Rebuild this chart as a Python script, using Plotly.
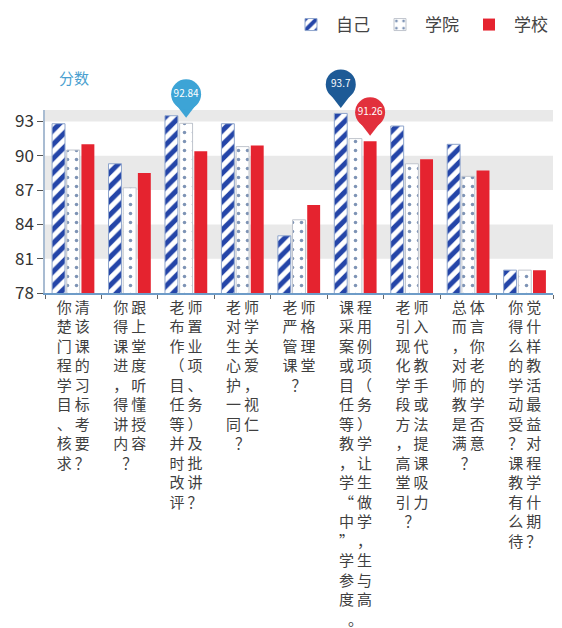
import plotly.graph_objects as go

# ---------------- data ----------------
questions = [
    "你清楚该门课程的学习目标、考核要求？",
    "你跟得上课堂进度，听得懂讲授内容？",
    "老师布置作业（项目、任务等）并及时批改讲评？",
    "老师对学生关心爱护，一视同仁？",
    "老师严格管理课堂？",
    "课程采用案例或项目（任务等）教学，让学生“做中学”，学生参与度高。",
    "老师引入现代化教学手段或方法，提高课堂吸引力？",
    "总体而言，你对老师的教学是否满意？",
    "你觉得什么样的教学活动最受益？对课程教学有什么期待？",
]
series_names = ["自己", "学院", "学校"]
self_scores = [92.8, 89.3, 93.5, 92.8, 83.0, 93.7, 92.6, 91.0, 80.0]
college_scores = [90.5, 87.2, 92.84, 90.8, 84.4, 91.5, 89.3, 88.2, 80.0]
school_scores = [91.0, 88.5, 90.4, 90.9, 85.7, 91.26, 89.7, 88.7, 80.0]
y_ticks = [78, 81, 84, 87, 90, 93]
y_min, y_max = 78, 94

# ---------------- layout constants ----------------
W, H = 562, 628
M_L, M_R, M_B = 45, 9, 335
MAIN_TOP = 110          # pixel where the value axis ends
M_T = 30                # paper top (room for the pins)
BARGAP, BARGROUPGAP = 0.22, 0.12
FONT = "Noto Sans CJK SC"


def wrap2(s):
    return "<br>".join("\u2009".join(s[i:i + 2]) for i in range(0, len(s), 2))


labels = [wrap2(q) for q in questions]
all_series = [self_scores, college_scores, school_scores]

bar_styles = [
    dict(color="white",
         pattern=dict(shape="/", fgcolor="#2445a8", bgcolor="white", size=10,
                      solidity=0.5, fgopacity=1),
         line=dict(color="#8ea4cc", width=1)),
    dict(color="white",
         pattern=dict(shape=".", fgcolor="#7d93b5", bgcolor="white", size=9,
                      solidity=0.12, fgopacity=1),
         line=dict(color="#c0c5cd", width=1)),
    dict(color="#e5232f", line=dict(color="#e5232f", width=0)),
]
pin_colors = ["#1d5a96", "#3da4d6", "#e2303c"]

plot_h_total = H - M_T - M_B
plot_h_main = H - MAIN_TOP - M_B
plot_w = W - M_L - M_R
dom_top = plot_h_main / plot_h_total
px_per_unit = plot_h_main / (y_max - y_min)
y2_max = y_min + (y_max - y_min) / dom_top

fig = go.Figure()
for name, vals, st in zip(series_names, all_series, bar_styles):
    fig.add_trace(go.Bar(x=labels, y=vals, name=name, marker=st,
                         hoverinfo="skip"))

# pins (markPoint "max") on overlay axes that extend above the value axis
slot = (1 - BARGAP) / len(all_series)
for k, (vals, col) in enumerate(zip(all_series, pin_colors)):
    i = max(range(len(vals)), key=lambda j: vals[j])
    v = vals[i]
    xpos = i - (1 - BARGAP) / 2 + slot * (k + 0.5)
    fig.add_trace(go.Scatter(
        x=[xpos], y=[v + 14 / px_per_unit], xaxis="x2", yaxis="y2", mode="markers",
        marker=dict(symbol="triangle-down", size=17, color=col, line=dict(width=0)),
        showlegend=False, hoverinfo="skip", cliponaxis=False))
    fig.add_trace(go.Scatter(
        x=[xpos], y=[v + 29 / px_per_unit], xaxis="x2", yaxis="y2", mode="markers+text",
        marker=dict(symbol="circle", size=30, color=col, line=dict(width=0)),
        text=[f"{v:g}"], textposition="middle center",
        textfont=dict(family=FONT, size=10, color="white"),
        showlegend=False, hoverinfo="skip", cliponaxis=False))

# alternating split areas
shapes = []
bounds = y_ticks + [y_max]
for j in range(len(bounds) - 1):
    if j % 2 == 1:
        shapes.append(dict(type="rect", xref="paper", yref="y", x0=0, x1=1,
                           y0=bounds[j], y1=bounds[j + 1], fillcolor="#e9e9e9",
                           line=dict(width=0), layer="below"))

fig.update_layout(
    width=W, height=H,
    margin=dict(l=M_L, r=M_R, t=M_T, b=M_B, autoexpand=False),
    paper_bgcolor="white", plot_bgcolor="rgba(0,0,0,0)",
    barmode="group", bargap=BARGAP, bargroupgap=BARGROUPGAP,
    font=dict(family=FONT, color="#444"),
    shapes=shapes,
    xaxis=dict(type="category", tickson="boundaries", ticks="outside", ticklen=4,
               tickcolor="#666", showline=True, linecolor="#6e9cc8", linewidth=1.5,
               tickangle=0, ticklabelstandoff=0, automargin=False,
               tickfont=dict(family=FONT, size=15, color="#3f3f3f"),
               showgrid=False, zeroline=False, fixedrange=True),
    yaxis=dict(domain=[0, dom_top], range=[y_min, y_max], tickvals=y_ticks,
               ticks="outside", ticklen=6, automargin=False,
               tickcolor="#555", showline=True, linecolor="#a9bcd2", linewidth=1.5,
               showgrid=False, zeroline=False,
               tickfont=dict(family=FONT, size=17, color="#333"), fixedrange=True),
    xaxis2=dict(anchor="y2", overlaying="x", range=[-0.5, len(questions) - 0.5],
                visible=False, fixedrange=True),
    yaxis2=dict(domain=[0, 1], range=[y_min, y2_max], anchor="x2", visible=False,
                fixedrange=True),
    legend=dict(orientation="h", x=1, xanchor="right", yref="container",
                y=1 - 25 / H, yanchor="middle",
                font=dict(family=FONT, size=17, color="#444"),
                itemwidth=40),
    annotations=[dict(text="分数", xref="paper", yref="paper", x=12 / plot_w,
                      y=(H - M_B - 77) / plot_h_total, xanchor="left", yanchor="middle",
                      showarrow=False,
                      font=dict(family=FONT, size=15, color="#4a9fd0"))],
)

fig.write_html("out.html")
